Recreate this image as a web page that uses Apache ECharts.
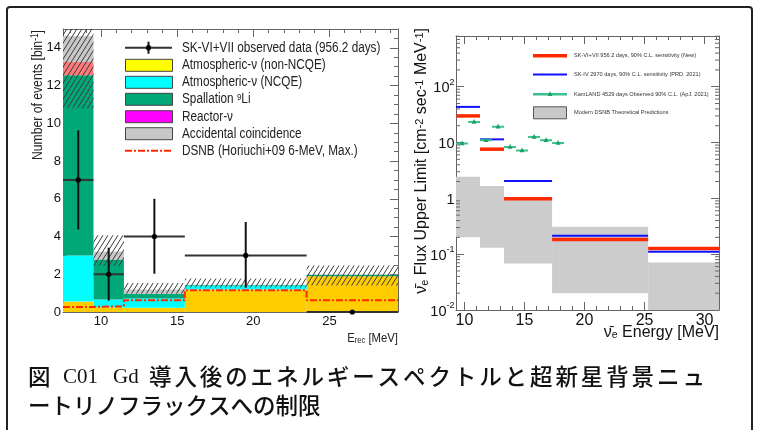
<!DOCTYPE html>
<html><head><meta charset="utf-8">
<script src="https://cdn.jsdelivr.net/npm/echarts@6/dist/echarts.min.js"></script>
<style>html,body{margin:0;padding:0;background:#fff}#c{width:758px;height:430px}</style>
</head><body><div id="c"></div>
<script>
// ---------------- Left panel: observed spectrum ----------------
const binEdgesL   = [7.5, 9.5, 11.5, 15.5, 23.5, 29.5];
const atmNonNCQE  = [0.55, 0.25, 0.23, 1.19, 1.89];
const atmNCQE     = [2.45, 0.41, 0.48, 0.22, 0.00];
const spallation  = [9.55, 2.12, 0.26, 0.02, 0.08];
const reactor     = [0.70, 0.00, 0.00, 0.00, 0.00];
const accidental  = [1.37, 0.42, 0.22, 0.02, 0.02];
const bkgErrLow   = [10.8, 2.45, 0.97, 1.30, 1.41];
const bkgErrHigh  = [15.0, 4.07, 1.54, 1.77, 2.47];
const dsnbModel   = [0.27, 0.30, 0.62, 1.15, 0.62];
const obsX        = [8.5, 10.5, 13.5, 19.5, 26.5];
const obsY        = [7, 2, 4, 3, 0];
const obsLow      = [4.37, 0.60, 2.03, 1.29, 0];
const obsHigh     = [9.63, 3.41, 6.00, 4.77, 0];
const leftXTicks  = [10, 15, 20, 25];
const leftYTicks  = [0, 2, 4, 6, 8, 10, 12, 14];

// ---------------- Right panel: flux upper limits ----------------
const binEdgesR    = [9.3, 11.3, 13.3, 17.3, 25.3, 31.3];
const skNewLimit   = [30, 7.6, 0.98, 0.184, 0.127];
const skIVLimit    = [43.5, 11.4, 2.04, 0.214, 0.11];
const kamlandE     = [9.8, 10.8, 11.8, 12.8, 13.8, 14.8, 15.8, 16.8, 17.8];
const kamlandLimit = [9.6, 23.4, 11.0, 19.2, 8.3, 7.2, 12.6, 11.0, 9.8];
const theoryHigh   = [2.44, 1.66, 0.95, 0.31, 0.071];
const theoryLow    = [0.20, 0.13, 0.068, 0.020, 0.010];
const rightXTicks  = [10, 15, 20, 25, 30];

const L_XMIN = 7.5, L_XMAX = 29.5, L_YMIN = 0, L_YMAX = 15;
const R_XMIN = 9.3, R_XMAX = 31.2, R_YMIN = 0.01, R_YMAX = 810;

const SANS = "'Liberation Sans', Arial, sans-serif";
const SERIF = "'Liberation Serif', 'DejaVu Serif', serif";
const JP = "'Noto Sans CJK JP', sans-serif";
const FRAME = '#666';
const NARROW_SCALE = 0.84;

// minor tick positions
const leftXMinor = []; for (let v = 8; v <= 29; v++) leftXMinor.push(v);
const leftYMinor = []; for (let v = 0; v <= 15; v += 0.5) leftYMinor.push(v);
const rightXMinor = []; for (let v = 10; v <= 31; v++) rightXMinor.push(v);
const logMinor = [];
for (let e = -2; e <= 2; e++) for (let m = 2; m <= 9; m++) { const v = m * Math.pow(10, e); if (v < R_YMAX) logMinor.push(v); }

// hatch pattern
const hatch = document.createElement('canvas');
hatch.width = 5; hatch.height = 8;
(function () {
  const g = hatch.getContext('2d');
  g.strokeStyle = '#3a3a3a'; g.lineWidth = 1;
  g.beginPath();
  [[0,0],[-5,0],[5,0],[0,-8],[0,8]].forEach(([dx,dy]) => { g.moveTo(0+dx, 8+dy); g.lineTo(5+dx, 0+dy); });
  g.stroke();
})();
const hatchFill = { image: hatch, repeat: 'repeat' };

function rectRender(fill) {
  return function (params, api) {
    const a = api.coord([api.value(0), api.value(3)]);
    const b = api.coord([api.value(1), api.value(2)]);
    return { type: 'rect', shape: { x: a[0], y: a[1], width: b[0] - a[0], height: b[1] - a[1] }, style: { fill: fill } };
  };
}
function segRender(color, width) {
  return function (params, api) {
    const a = api.coord([api.value(0), api.value(2)]);
    const b = api.coord([api.value(1), api.value(2)]);
    return { type: 'line', shape: { x1: a[0], y1: a[1], x2: b[0], y2: b[1] }, style: { stroke: color, lineWidth: width } };
  };
}

const series = [];
const stackDefs = [
  { name: 'Atmospheric-ν (non-NCQE)', vals: atmNonNCQE, color: '#ffcc00' },
  { name: 'Atmospheric-ν (NCQE)', vals: atmNCQE, color: '#00ffff' },
  { name: 'Spallation 9Li', vals: spallation, color: '#00a878' },
  { name: 'Reactor-ν', vals: reactor, color: '#ff7b7b' },
  { name: 'Accidental coincidence', vals: accidental, color: '#c8c8c8' }
];
let base = binEdgesL.slice(1).map(() => 0);
stackDefs.forEach(d => {
  const data = d.vals.map((v, i) => [binEdgesL[i], binEdgesL[i + 1], base[i], base[i] + v]);
  base = base.map((b, i) => b + d.vals[i]);
  series.push({ type: 'custom', name: d.name, xAxisIndex: 0, yAxisIndex: 0, clip: true,
    encode: { x: [0, 1], y: [2, 3] }, data: data, renderItem: rectRender(d.color) });
});
series.push({ type: 'custom', name: 'Background uncertainty', xAxisIndex: 0, yAxisIndex: 0, clip: true,
  encode: { x: [0, 1], y: [2, 3] },
  data: bkgErrLow.map((v, i) => [binEdgesL[i], binEdgesL[i + 1], v, bkgErrHigh[i]]),
  renderItem: rectRender(hatchFill) });
series.push({ type: 'line', name: 'DSNB (Horiuchi+09 6-MeV, Max.)', xAxisIndex: 0, yAxisIndex: 0,
  step: 'end', showSymbol: false, symbol: 'none', z: 4,
  data: binEdgesL.map((x, i) => [x, dsnbModel[Math.min(i, dsnbModel.length - 1)]]),
  lineStyle: { color: '#ff2a00', width: 2, type: [7, 2, 2, 2] } });
series.push({ type: 'custom', name: 'SK-VI+VII observed data (956.2 days)', xAxisIndex: 0, yAxisIndex: 0, clip: false, z: 5,
  encode: { x: 0, y: 1 },
  data: obsX.map((x, i) => [x, obsY[i], binEdgesL[i], binEdgesL[i + 1], obsLow[i], obsHigh[i]]),
  renderItem: function (params, api) {
    const c = api.coord([api.value(0), api.value(1)]);
    const l = api.coord([api.value(2), api.value(1)]);
    const r = api.coord([api.value(3), api.value(1)]);
    const lo = api.coord([api.value(0), api.value(4)]);
    const hi = api.coord([api.value(0), api.value(5)]);
    return { type: 'group', children: [
      { type: 'line', shape: { x1: l[0], y1: c[1], x2: r[0], y2: c[1] }, style: { stroke: '#333', lineWidth: 2 } },
      { type: 'line', shape: { x1: c[0], y1: lo[1], x2: c[0], y2: hi[1] }, style: { stroke: '#111', lineWidth: 2 } },
      { type: 'circle', shape: { cx: c[0], cy: c[1], r: 2.6 }, style: { fill: '#000' } }
    ] };
  } });

series.push({ type: 'custom', name: 'Modern DSNB Theoretical Predictions', xAxisIndex: 4, yAxisIndex: 4, clip: true,
  encode: { x: [0, 1], y: [2, 3] },
  data: theoryLow.map((v, i) => [binEdgesR[i], binEdgesR[i + 1], v, theoryHigh[i]]),
  renderItem: rectRender('#cccccc') });
series.push({ type: 'custom', name: 'SK-VI+VII 956.2 days, 90% C.L. sensitivity (New)', xAxisIndex: 4, yAxisIndex: 4, clip: true,
  encode: { x: [0, 1], y: 2 },
  data: skNewLimit.map((v, i) => [binEdgesR[i], binEdgesR[i + 1], v]),
  renderItem: segRender('#ff2a00', 3.5) });
series.push({ type: 'custom', name: 'SK-IV 2970 days, 90% C.L. sensitivity (PRD. 2021)', xAxisIndex: 4, yAxisIndex: 4, clip: true,
  encode: { x: [0, 1], y: 2 },
  data: skIVLimit.map((v, i) => [binEdgesR[i], binEdgesR[i + 1], v]),
  renderItem: segRender('#1010ff', 2) });
series.push({ type: 'custom', name: 'KamLAND 4529 days Observed 90% C.L. (ApJ. 2021)', xAxisIndex: 4, yAxisIndex: 4, clip: true,
  encode: { x: 0, y: 1 },
  data: kamlandE.map((e, i) => [e, kamlandLimit[i]]),
  renderItem: function (params, api) {
    const c = api.coord([api.value(0), api.value(1)]);
    const l = api.coord([api.value(0) - 0.5, api.value(1)]);
    const r = api.coord([api.value(0) + 0.5, api.value(1)]);
    return { type: 'group', children: [
      { type: 'line', shape: { x1: l[0], y1: c[1], x2: r[0], y2: c[1] }, style: { stroke: '#3cc08c', lineWidth: 2 } },
      { type: 'polygon', shape: { points: [[c[0], c[1] - 3], [c[0] - 2.5, c[1] + 1.8], [c[0] + 2.5, c[1] + 1.8]] }, style: { fill: '#1f9e6a' } }
    ] };
  } });
series.push({ type: 'custom', name: 'logMinorTicks', xAxisIndex: 4, yAxisIndex: 4, clip: false, silent: true,
  encode: { x: [0, 2], y: 1 },
  data: logMinor.map(v => [R_XMIN, v, R_XMAX]),
  renderItem: function (params, api) {
    const a = api.coord([api.value(0), api.value(1)]);
    const b = api.coord([api.value(2), api.value(1)]);
    return { type: 'group', children: [
      { type: 'line', shape: { x1: a[0], y1: a[1], x2: a[0] + 4, y2: a[1] }, style: { stroke: FRAME, lineWidth: 1 } },
      { type: 'line', shape: { x1: b[0], y1: b[1], x2: b[0] - 4, y2: b[1] }, style: { stroke: FRAME, lineWidth: 1 } }
    ] };
  } });

function xAx(grid, min, max, pos, ticks, len, label, line) {
  return { type: 'value', gridIndex: grid, min: min, max: max, position: pos,
    axisLine: { show: line, onZero: false, lineStyle: { color: FRAME, width: 1 } },
    axisTick: { show: true, inside: true, length: len, customValues: ticks, lineStyle: { color: FRAME } },
    axisLabel: label ? Object.assign({ show: true, customValues: ticks }, label) : { show: false },
    splitLine: { show: false }, minorTick: { show: false } };
}
const lxLabel = { fontFamily: SANS, fontSize: 13, color: '#111', margin: 3 };
const rxLabel = { fontFamily: SANS, fontSize: 16, color: '#111', margin: 3 };
const xAxes = [
  xAx(0, L_XMIN, L_XMAX, 'bottom', leftXTicks, 8, lxLabel, true),
  xAx(0, L_XMIN, L_XMAX, 'bottom', leftXMinor, 4, null, false),
  xAx(0, L_XMIN, L_XMAX, 'top', leftXTicks, 8, null, true),
  xAx(0, L_XMIN, L_XMAX, 'top', leftXMinor, 4, null, false),
  xAx(1, R_XMIN, R_XMAX, 'bottom', rightXTicks, 8, rxLabel, true),
  xAx(1, R_XMIN, R_XMAX, 'bottom', rightXMinor, 4, null, false),
  xAx(1, R_XMIN, R_XMAX, 'top', rightXTicks, 8, null, true),
  xAx(1, R_XMIN, R_XMAX, 'top', rightXMinor, 4, null, false)
];
const yAxes = [
  xAx(0, L_YMIN, L_YMAX, 'left', leftYTicks, 8, { fontFamily: SANS, fontSize: 13, color: '#111', margin: 2 }, true),
  xAx(0, L_YMIN, L_YMAX, 'left', leftYMinor, 4, null, false),
  xAx(0, L_YMIN, L_YMAX, 'right', leftYTicks, 8, null, true),
  xAx(0, L_YMIN, L_YMAX, 'right', leftYMinor, 4, null, false),
  { type: 'log', logBase: 10, gridIndex: 1, min: R_YMIN, max: R_YMAX, position: 'left',
    axisLine: { show: true, onZero: false, lineStyle: { color: FRAME } },
    axisTick: { show: true, inside: true, length: 8, lineStyle: { color: FRAME } },
    axisLabel: { show: true, showMaxLabel: false, margin: 1.5, color: '#111', fontFamily: SANS, fontSize: 14,
      formatter: function (v) {
        const e = Math.round(Math.log10(v));
        if (e === 0) return '{m|1}';
        if (e === 1) return '{m|10}';
        return '{m|10}{s|' + e + '}';
      },
      rich: { m: { fontFamily: SANS, fontSize: 14.5, color: '#111', lineHeight: 18, verticalAlign: 'bottom' },
              s: { fontFamily: SANS, fontSize: 9, color: '#111', verticalAlign: 'top' } } },
    splitLine: { show: false }, minorTick: { show: false } },
  { type: 'log', logBase: 10, gridIndex: 1, min: R_YMIN, max: R_YMAX, position: 'right',
    axisLine: { show: true, onZero: false, lineStyle: { color: FRAME } },
    axisTick: { show: true, inside: true, length: 8, lineStyle: { color: FRAME } },
    axisLabel: { show: false }, splitLine: { show: false } }
];

// ---- graphics: legends, titles, caption, border ----
const G = [];
G.push({ type: 'rect', shape: { x: 7, y: 7, width: 745, height: 470, r: 3 }, style: { fill: 'none', stroke: '#222', lineWidth: 2 }, z: 100 });
const LLX = 125, LLW = 47, LTX = 182;
const lRows = [47.7, 65.3, 82.3, 99.3, 116.7, 133.7, 150.7];
const lText = { fontFamily: SANS, fontSize: 14, fill: '#222', verticalAlign: 'middle' };
function ltext(x, y, text) {
  return { type: 'text', x: x, y: y, scaleX: NARROW_SCALE, style: Object.assign({ text: text,
    rich: { s: { fontFamily: SANS, fontSize: 9.5, fill: '#222', verticalAlign: 'top' } } }, lText) };
}
G.push({ type: 'line', shape: { x1: LLX, y1: lRows[0], x2: LLX + LLW, y2: lRows[0] }, style: { stroke: '#333', lineWidth: 2 } });
G.push({ type: 'line', shape: { x1: LLX + LLW / 2, y1: lRows[0] - 6, x2: LLX + LLW / 2, y2: lRows[0] + 6 }, style: { stroke: '#111', lineWidth: 2 } });
G.push({ type: 'circle', shape: { cx: LLX + LLW / 2, cy: lRows[0], r: 2.6 }, style: { fill: '#000' } });
G.push(ltext(LTX, lRows[0], 'SK-VI+VII observed data (956.2 days)'));
const boxRows = [
  ['#ffff00', 'Atmospheric-ν (non-NCQE)'],
  ['#00ffff', 'Atmospheric-ν (NCQE)'],
  ['#00a878', 'Spallation {s|9}Li'],
  ['#ff00ff', 'Reactor-ν'],
  ['#c8c8c8', 'Accidental coincidence']
];
boxRows.forEach((b, i) => {
  const y = lRows[i + 1];
  G.push({ type: 'rect', shape: { x: LLX + 0.5, y: y - 6, width: LLW, height: 12 }, style: { fill: b[0], stroke: '#444', lineWidth: 1 } });
  G.push(ltext(LTX, y, b[1]));
});
G.push({ type: 'line', shape: { x1: LLX, y1: lRows[6], x2: LLX + LLW, y2: lRows[6] }, style: { stroke: '#ff2a00', lineWidth: 2, lineDash: [7, 2, 2, 2] } });
G.push(ltext(LTX, lRows[6], 'DSNB (Horiuchi+09 6-MeV, Max.)'));

const RLX = 533, RLW = 34, RTX = 574;
const rRows = [55.8, 74.5, 94.3, 112.8];
const rText = { fontFamily: SANS, fontSize: 5.6, fill: '#333', verticalAlign: 'middle' };
G.push({ type: 'line', shape: { x1: RLX, y1: rRows[0], x2: RLX + RLW, y2: rRows[0] }, style: { stroke: '#ff2a00', lineWidth: 3.5 } });
G.push({ type: 'line', shape: { x1: RLX, y1: rRows[1], x2: RLX + RLW, y2: rRows[1] }, style: { stroke: '#1010ff', lineWidth: 2 } });
G.push({ type: 'line', shape: { x1: RLX, y1: rRows[2], x2: RLX + RLW, y2: rRows[2] }, style: { stroke: '#3cc08c', lineWidth: 2.5 } });
G.push({ type: 'polygon', shape: { points: [[RLX + RLW / 2, rRows[2] - 3], [RLX + RLW / 2 - 2.5, rRows[2] + 1.8], [RLX + RLW / 2 + 2.5, rRows[2] + 1.8]] }, style: { fill: '#1f9e6a' } });
G.push({ type: 'rect', shape: { x: RLX + 0.5, y: rRows[3] - 6, width: RLW - 1, height: 12 }, style: { fill: '#c8c8c8', stroke: '#555', lineWidth: 1 } });
['SK-VI+VII 956.2 days, 90% C.L. sensitivity (New)',
 'SK-IV 2970 days, 90% C.L. sensitivity (PRD. 2021)',
 'KamLAND 4529 days Observed 90% C.L. (ApJ. 2021)',
 'Modern DSNB Theoretical Predictions'].forEach((t, i) => {
  G.push({ type: 'text', x: RTX, y: rRows[i], style: Object.assign({ text: t }, rText) });
});

G.push({ type: 'text', x: 38, y: 30, rotation: Math.PI / 2, scaleX: NARROW_SCALE,
  style: { text: '{a|Number of events [bin}{s|-1}{a|]}', align: 'right', verticalAlign: 'middle',
    rich: { a: { fontFamily: SANS, fontSize: 14.5, fill: '#222' }, s: { fontFamily: SANS, fontSize: 10, fill: '#222', verticalAlign: 'top' } } } });
G.push({ type: 'text', x: 398, y: 338, scaleX: NARROW_SCALE,
  style: { text: '{a|E}{b|rec}{a| [MeV]}', align: 'right', verticalAlign: 'middle',
    rich: { a: { fontFamily: SANS, fontSize: 13.5, fill: '#222' }, b: { fontFamily: SANS, fontSize: 9, fill: '#222', verticalAlign: 'bottom' } } } });
G.push({ type: 'text', x: 422, y: 28, rotation: Math.PI / 2,
  style: { text: '{a|ν̄}{b|e}{a| Flux Upper Limit [cm}{s|-2}{a| sec}{s|-1}{a| MeV}{s|-1}{a|]}', align: 'right', verticalAlign: 'middle',
    rich: { a: { fontFamily: SANS, fontSize: 16, fill: '#111' },
            b: { fontFamily: SANS, fontSize: 11, fill: '#111', verticalAlign: 'bottom' },
            s: { fontFamily: SANS, fontSize: 11, fill: '#111', verticalAlign: 'top' } } } });
G.push({ type: 'text', x: 719, y: 333,
  style: { text: '{a|ν̄}{b|e}{a| Energy [MeV]}', align: 'right', verticalAlign: 'middle',
    rich: { a: { fontFamily: SANS, fontSize: 16, fill: '#111' }, b: { fontFamily: SANS, fontSize: 10.5, fill: '#111', verticalAlign: 'bottom' } } } });

const cap1 = '導入後のエネルギースペクトルと超新星背景ニュ';
const cap2 = 'ートリノフラックスへの制限';
const capStyle = { fontFamily: JP, fontSize: 22.5, fontWeight: 500, fill: '#111', verticalAlign: 'middle' };
G.push({ type: 'text', x: 28, y: 376, style: Object.assign({ text: '図' }, capStyle) });
G.push({ type: 'text', x: 63, y: 377, style: { text: 'C01', fontFamily: SERIF, fontSize: 21, fill: '#111', verticalAlign: 'middle' } });
G.push({ type: 'text', x: 113, y: 377, style: { text: 'Gd', fontFamily: SERIF, fontSize: 21, fill: '#111', verticalAlign: 'middle' } });
G.push({ type: 'text', x: 149, y: 376, style: { text: Array.from(cap1).map(c => '{j|' + c + '}').join(''), verticalAlign: 'middle',
  rich: { j: { width: 25.4, fontFamily: JP, fontSize: 22.5, fontWeight: 500, fill: '#111' } } } });
G.push({ type: 'text', x: 28, y: 405, style: Object.assign({ text: cap2 }, capStyle) });

const option = {
  animation: false,
  backgroundColor: '#ffffff',
  grid: [
    { left: 63, top: 29, width: 335, height: 283, outerBoundsMode: 'none' },
    { left: 456, top: 36, width: 263, height: 274, outerBoundsMode: 'none' }
  ],
  xAxis: xAxes,
  yAxis: yAxes,
  series: series,
  graphic: { elements: G }
};
const chart = echarts.init(document.getElementById('c'));
chart.setOption(option);
</script></body></html>
